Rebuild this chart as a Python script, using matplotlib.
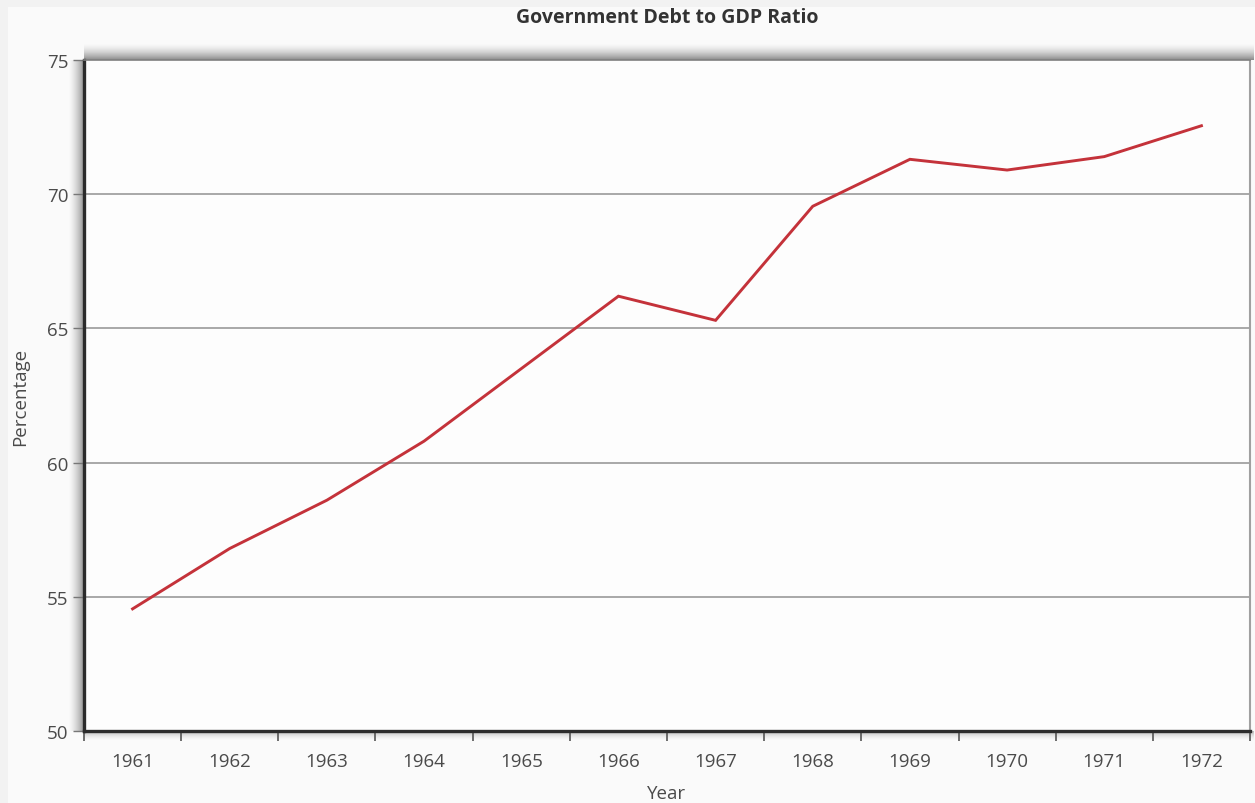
import numpy as np
import matplotlib
matplotlib.use('Agg')
import matplotlib.pyplot as plt
from matplotlib.patches import Rectangle

# datos
years = ['1961', '1962', '1963', '1964', '1965', '1966',
         '1967', '1968', '1969', '1970', '1971', '1972']
ratio = [54.55, 56.8, 58.6, 60.8, 63.5, 66.2,
         65.3, 69.55, 71.3, 70.9, 71.4, 72.55]
y_ticks = [50, 55, 60, 65, 70, 75]

plt.rcParams['font.family'] = ['Open Sans', 'DejaVu Sans']

W, H = 1255, 804
fig = plt.figure(figsize=(W / 100, H / 100), dpi=100, facecolor='#f2f2f2')
fig.patches.append(Rectangle((8 / W, 0), 1, 1 - 8 / H, transform=fig.transFigure,
                             facecolor='#fafafa', edgecolor='none', zorder=-10))

# posicion del area de dibujo en pixeles
L, R, T, B = 84, 1250, 61, 732


def px_axes(x0, y0, x1, y1):
    return fig.add_axes([x0 / W, 1 - y1 / H, (x1 - x0) / W, (y1 - y0) / H])


# sombras (degradados) alrededor del area
def sombra(x0, y0, x1, y1, direccion, alpha_max=0.55):
    a = px_axes(x0, y0, x1, y1)
    n = 64
    g = np.linspace(0, 1, n) ** 1.6
    rgba = np.zeros((n, n, 4))
    if direccion == 'abajo':      # mas oscuro abajo
        rgba[..., 3] = (g[:, None] * np.ones(n)) * alpha_max
    elif direccion == 'arriba':   # mas oscuro arriba
        rgba[..., 3] = (g[::-1][:, None] * np.ones(n)) * alpha_max
    elif direccion == 'derecha':  # mas oscuro a la derecha
        rgba[..., 3] = (np.ones(n)[:, None] * g[None, :]) * alpha_max
    rgba[..., :3] = 0.25
    a.imshow(rgba, aspect='auto', interpolation='bilinear')
    a.axis('off')
    return a


sombra(L, 44, R + 4, T, 'abajo', 0.6)
sombra(68, T, L, B, 'derecha', 0.55)
sombra(L, B, R + 4, B + 10, 'arriba', 0.35)

ax = px_axes(L, T, R, B)
ax.set_facecolor('#fdfdfd')

x = np.arange(len(years))
ax.plot(x, ratio, color='#c4323a', lw=2.1, solid_joinstyle='miter', zorder=3)

ax.set_xlim(-0.5, len(years) - 0.5)
ax.set_ylim(50, 75)
ax.set_yticks(y_ticks)
ax.set_yticklabels([str(v) for v in y_ticks])
ax.set_xticks(x)
ax.set_xticklabels(years)
ax.set_xticks(np.arange(-0.5, len(years), 1), minor=True)

for v in y_ticks[1:-1]:
    ax.axhline(v, color='#9a9a9a', lw=1.2, zorder=1)

ax.tick_params(axis='x', which='major', length=0, pad=15, labelsize=13.5, labelcolor='#4a4a4a')
ax.tick_params(axis='x', which='minor', length=7, width=1.2, color='#555555', direction='out')
ax.tick_params(axis='y', length=8, width=1, color='#777777', pad=3, labelsize=13.5,
               labelcolor='#4a4a4a')

ax.spines['left'].set_linewidth(2.4)
ax.spines['left'].set_color('#2b2b2b')
ax.spines['bottom'].set_linewidth(2.4)
ax.spines['bottom'].set_color('#2b2b2b')
ax.spines['top'].set_linewidth(1.2)
ax.spines['top'].set_color('#808080')
ax.spines['right'].set_linewidth(1.5)
ax.spines['right'].set_color('#a0a0a0')

fig.text((L + R) / 2 / W, 1 - 18 / H, 'Government Debt to GDP Ratio', ha='center', va='center',
         fontsize=14, fontweight='bold', color='#333333')
fig.text((L + R) / 2 / W, 1 - 794 / H, 'Year', ha='center', va='center',
         fontsize=13.5, color='#4a4a4a')
fig.text(20 / W, 1 - 397 / H, 'Percentage', ha='center', va='center', rotation=90,
         fontsize=13.5, color='#4a4a4a')

fig.savefig('out.png', dpi=100, facecolor=fig.get_facecolor())
